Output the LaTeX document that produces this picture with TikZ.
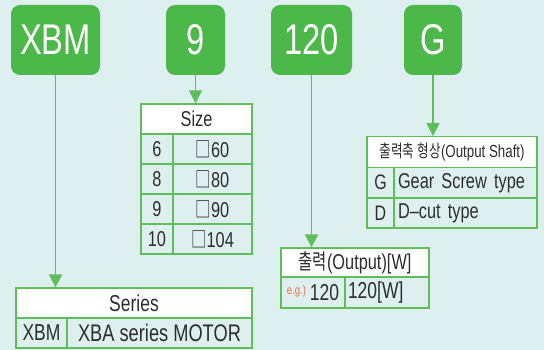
\documentclass[tikz,border=0pt]{standalone}
\usepackage{fontspec}
\setmainfont[FakeStretch=0.76]{Liberation Sans}
\newfontfamily\kr[FakeStretch=0.72]{Noto Sans CJK KR}
\usetikzlibrary{arrows.meta}
\definecolor{bgTeal}{RGB}{221,240,239}
\definecolor{tagGreen}{RGB}{77,184,74}
\definecolor{lineGreen}{RGB}{93,190,90}
\definecolor{txtGray}{RGB}{45,45,45}
\definecolor{egOrange}{RGB}{235,110,60}

\begin{document}
\begin{tikzpicture}[
    x=1pt, y=-1pt, >={Triangle[width=13pt, length=13pt]},
    tag/.style={rounded corners=9pt, fill=tagGreen, text=white, inner sep=0pt, minimum height=70pt, font=\fontsize{43}{43}\selectfont},
    head/.style={draw=lineGreen, line width=1.3pt, fill=white, text=txtGray, inner sep=0pt},
    cell/.style={draw=lineGreen, line width=1.3pt, text=txtGray, inner sep=0pt},
    link/.style={->, draw=lineGreen, line width=1.5pt}
]

% Background
\fill[bgTeal] (0,0) rectangle (544,350);
\useasboundingbox (0,0) rectangle (544,350);

% Code tags
\node[tag, minimum width=89pt] (xbm) at (55.5,40) {XBM};
\node[tag, minimum width=59pt] (nine) at (195.5,40) {9};
\node[tag, minimum width=81pt] (out) at (311.5,40) {120};
\node[tag, minimum width=58pt] (shaft) at (433,40) {G};

% Size table
\node[head, minimum width=111pt, minimum height=30pt, font=\fontsize{21.5}{21.5}\selectfont] (sizeHead) at (196.5,119) {Size};
\node[cell, minimum width=32pt, minimum height=30pt, font=\fontsize{21.5}{21.5}\selectfont] (size1a) at (157,149) {6};
\node[cell, minimum width=79pt, minimum height=30pt, font=\fontsize{21.5}{21.5}\selectfont] (size1b) at (212.5,149) {{\kr □}60};
\node[cell, minimum width=32pt, minimum height=30pt, font=\fontsize{21.5}{21.5}\selectfont] (size2a) at (157,179) {8};
\node[cell, minimum width=79pt, minimum height=30pt, font=\fontsize{21.5}{21.5}\selectfont] (size2b) at (212.5,179) {{\kr □}80};
\node[cell, minimum width=32pt, minimum height=30pt, font=\fontsize{21.5}{21.5}\selectfont] (size3a) at (157,209) {9};
\node[cell, minimum width=79pt, minimum height=30pt, font=\fontsize{21.5}{21.5}\selectfont] (size3b) at (212.5,209) {{\kr □}90};
\node[cell, minimum width=32pt, minimum height=30pt, font=\fontsize{21.5}{21.5}\selectfont] (size4a) at (157,239) {10};
\node[cell, minimum width=79pt, minimum height=30pt, font=\fontsize{21.5}{21.5}\selectfont] (size4b) at (212.5,239) {{\kr □}104};

% Output shaft table
\node[head, minimum width=170pt, minimum height=30.5pt, font=\fontsize{17.5}{17.5}\selectfont] (shaftHead) at (452,152) {{\kr 출력축}\ {\kr 형상}(Output Shaft)};
\node[cell, minimum width=27pt, minimum height=30.5pt, font=\fontsize{21}{21}\selectfont] (shaft1a) at (380.5,182.75) {G};
\node[cell, minimum width=143pt, minimum height=30.5pt, text width=135pt, inner xsep=4pt, align=left, font=\fontsize{21.5}{21.5}\selectfont] (shaft1b) at (465.5,182.75) {Gear Screw type};
\node[cell, minimum width=27pt, minimum height=30pt, font=\fontsize{21}{21}\selectfont] (shaft2a) at (380.5,213) {D};
\node[cell, minimum width=143pt, minimum height=30pt, text width=135pt, inner xsep=4pt, align=left, font=\fontsize{21.5}{21.5}\selectfont] (shaft2b) at (465.5,213) {D--cut type};

% Output table
\node[head, minimum width=148pt, minimum height=29pt, font=\fontsize{21.5}{21.5}\selectfont] (outHead) at (355,262.5) {{\kr 출력}(Output)[W]};
\node[cell, minimum width=64pt, minimum height=31pt, font=\fontsize{23}{23}\selectfont] (out1a) at (313,292.5) {\raisebox{6pt}{\fontsize{12.5}{12.5}\selectfont\color{egOrange}e.g.)}\,120};
\node[cell, minimum width=84pt, minimum height=31pt, text width=78pt, inner xsep=3pt, align=left, font=\fontsize{23}{23}\selectfont] (out1b) at (387,292.5) {120[W]};

% Series table
\node[head, minimum width=236pt, minimum height=30pt, font=\fontsize{23}{23}\selectfont] (seriesHead) at (134,303) {Series};
\node[cell, minimum width=51pt, minimum height=30pt, font=\fontsize{23}{23}\selectfont] (series1a) at (41.5,333) {XBM};
\node[cell, minimum width=185pt, minimum height=30pt, font=\fontsize{24}{24}\selectfont] (series1b) at (159.5,333) {XBA series MOTOR};

% Links
\draw[link] (xbm.south) -- (xbm.south |- seriesHead.north);
\draw[link] (nine.south) -- (nine.south |- sizeHead.north);
\draw[link] (out.south) -- (out.south |- outHead.north);
\draw[link] (shaft.south) -- (shaft.south |- shaftHead.north);

\end{tikzpicture}
\end{document}
